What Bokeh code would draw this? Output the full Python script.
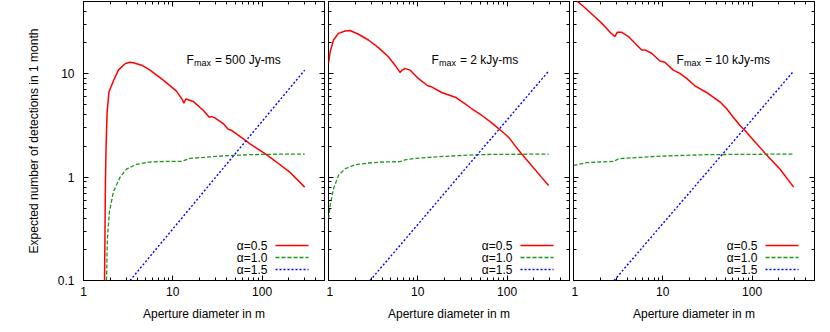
import math
from bokeh.plotting import figure
from bokeh.layouts import row
from bokeh.models import LogAxis, Label, Arrow, CustomJSTickFormatter, LogTicker, Range1d
from bokeh.embed import file_html
from bokeh.resources import INLINE

# ---------------- data ----------------
titles = ["500 Jy-ms", "2 kJy-ms", "10 kJy-ms"]
series_names = ["\u03b1=0.5", "\u03b1=1.0", "\u03b1=1.5"]

# panel 1 : Fmax = 500 Jy-ms
d1_red = [1.72, 1.74, 1.76, 1.79, 1.84, 1.93, 2.16, 2.46, 2.92, 3.30, 3.62, 4.48, 5.56, 7.83, 11.0,
          12.9, 13.3, 14.0, 16.9, 21.9, 25.6, 27.2, 29.6, 36.7, 41.7, 45.4, 61.3, 72.8, 86.4, 112,
          145, 204, 300]
n1_red = [0.10, 0.29, 0.89, 2.0, 4.3, 6.7, 8.5, 10.85, 12.5, 12.9, 12.8, 12.1, 10.85, 8.68, 6.79,
          5.55, 5.19, 5.70, 5.40, 4.44, 3.79, 3.85, 3.74, 3.30, 2.90, 2.84, 2.36, 2.11, 1.91, 1.65,
          1.40, 1.12, 0.80]
d1_green = [1.81, 1.85, 1.95, 2.16, 2.57, 3.05, 3.94, 5.56, 8.53, 12.6, 13.7, 15.5, 21.9, 30.9,
            47.4, 72.8, 112, 172, 300]
n1_green = [0.10, 0.25, 0.46, 0.72, 1.00, 1.20, 1.33, 1.40, 1.42, 1.42, 1.46, 1.52, 1.55, 1.59,
            1.62, 1.65, 1.66, 1.67, 1.67]
d1_blue = [3.32, 10, 30, 100, 300]
n1_blue = [0.10, 0.315, 0.99, 3.46, 10.85]

# panel 2 : Fmax = 2 kJy-ms
d2_red = [1.0, 1.044, 1.137, 1.293, 1.535, 1.746, 2.164, 2.80, 3.62, 4.68, 5.56, 6.32, 6.71, 7.19,
          8.18, 10.13, 12.88, 14.28, 18.46, 27.2, 28.4, 33.6, 39.9, 51.7, 66.8, 76.0, 94.2, 107,
          122, 145, 187, 242, 292]
n2_red = [12.6, 16.35, 21.2, 24.6, 25.9, 26.2, 24.1, 21.2, 17.9, 14.6, 12.1, 10.3, 10.85, 11.27,
          10.85, 9.01, 7.65, 7.48, 6.59, 5.85, 5.68, 5.15, 4.61, 3.97, 3.37, 3.06, 2.63, 2.36, 2.03,
          1.68, 1.30, 1.0, 0.83]
d2_green = [1.0, 1.044, 1.137, 1.293, 1.535, 1.986, 2.80, 3.94, 6.32, 7.19, 9.3, 13.1, 20.1, 30.9,
            47.4, 72.8, 292]
n2_green = [0.394, 0.531, 0.771, 1.04, 1.205, 1.318, 1.37, 1.40, 1.41, 1.47, 1.52, 1.55, 1.59,
            1.62, 1.65, 1.66, 1.67]
d2_blue = [2.92, 10, 30, 100, 292]
n2_blue = [0.10, 0.348, 1.06, 3.58, 10.6]

# panel 3 : Fmax = 10 kJy-ms
d3_red = [1.0, 1.293, 1.673, 2.164, 2.569, 2.896, 3.10, 3.47, 4.12, 4.89, 5.80, 6.32, 7.50, 9.3,
          10.57, 13.1, 15.55, 18.46, 22.9, 30.9, 43.5, 51.7, 61.3, 72.8, 82.8, 111.8, 144.6, 203.7,
          292]
n3_red = [54, 44.7, 36.6, 29.7, 25.2, 22.9, 25.2, 25.2, 22.9, 19.7, 17.0, 17.0, 15.8, 13.3, 12.9,
          10.85, 10.07, 9.01, 7.65, 6.59, 5.35, 4.61, 3.82, 3.17, 2.84, 2.11, 1.65, 1.205, 0.80]
d3_green = [1.0, 1.41, 1.986, 2.84, 3.18, 3.94, 5.56, 8.53, 13.1, 30.9, 72.8, 292]
n3_green = [1.30, 1.38, 1.40, 1.42, 1.50, 1.53, 1.55, 1.59, 1.61, 1.65, 1.66, 1.67]
d3_blue = [2.85, 10, 30, 100, 292]
n3_blue = [0.10, 0.355, 1.07, 3.60, 10.6]

panels = [
    (d1_red, n1_red, d1_green, n1_green, d1_blue, n1_blue),
    (d2_red, n2_red, d2_green, n2_green, d2_blue, n2_blue),
    (d3_red, n3_red, d3_green, n3_green, d3_blue, n3_blue),
]

# ---------------- style ----------------
FONT = "Liberation Sans"
X_MIN, X_MAX = 1, 500
Y_MIN, Y_MAX = 0.1, 50
FRAME_W, FRAME_H = 241, 279
COLORS = ["#ff0000", "#1f961f", "#0000ff"]
DASHES = ["solid", "4 2", "2 2"]
WIDTHS = [1.5, 1.3, 1.4]


def fx(px):
    lo, hi = math.log10(X_MIN), math.log10(X_MAX)
    return 10 ** (lo + (px / FRAME_W) * (hi - lo))


def fy(px_from_bottom):
    lo, hi = math.log10(Y_MIN), math.log10(Y_MAX)
    return 10 ** (lo + (px_from_bottom / FRAME_H) * (hi - lo))


def style_axis(ax, show_labels):
    ax.ticker = LogTicker(num_minor_ticks=10)
    ax.axis_line_color = None
    ax.major_tick_in = 5
    ax.major_tick_out = 0
    ax.minor_tick_in = 3
    ax.minor_tick_out = 0
    ax.major_tick_line_color = "black"
    ax.minor_tick_line_color = "black"
    ax.major_label_text_font = FONT
    ax.major_label_text_color = "black"
    ax.axis_label_text_color = "black"
    if show_labels:
        ax.major_label_text_font_size = "12px"
        ax.formatter = CustomJSTickFormatter(code="return String(Number(tick.toPrecision(6)));")
    else:
        ax.major_label_text_font_size = "0px"
        ax.major_label_standoff = 0
        ax.formatter = CustomJSTickFormatter(code="return '';")


figs = []
for i, (dr, nr, dg, ng, db, nb) in enumerate(panels):
    first = i == 0
    left_border = 83 if first else 2
    p = figure(width=left_border + FRAME_W + 2, height=FRAME_H + 46,
               x_axis_type="log", y_axis_type="log",
               x_range=Range1d(X_MIN, X_MAX), y_range=Range1d(Y_MIN, Y_MAX),
               output_backend="svg", toolbar_location=None,
               min_border_left=left_border, min_border_right=2,
               min_border_top=1, min_border_bottom=45)
    p.grid.visible = False
    p.outline_line_color = "black"
    p.outline_line_width = 1
    p.background_fill_color = "white"
    p.border_fill_color = "white"

    xb = p.below[0]
    yl = p.left[0]
    style_axis(xb, True)
    style_axis(yl, first)
    xb.major_label_standoff = 6
    xb.axis_label = "Aperture diameter in m"
    xb.axis_label_text_font = FONT
    xb.axis_label_text_font_size = "12px"
    xb.axis_label_text_font_style = "normal"
    xb.axis_label_standoff = 8
    if first:
        yl.major_label_standoff = 9
        yl.axis_label = "Expected number of detections in 1 month"
        yl.axis_label_text_font = FONT
        yl.axis_label_text_font_size = "12px"
        yl.axis_label_text_font_style = "normal"
        yl.axis_label_standoff = 14

    top_ax = LogAxis()
    right_ax = LogAxis()
    style_axis(top_ax, False)
    style_axis(right_ax, False)
    p.add_layout(top_ax, "above")
    p.add_layout(right_ax, "right")

    xs = [dr, dg, db]
    ys = [nr, ng, nb]
    for k in range(3):
        p.line(xs[k], ys[k], line_color=COLORS[k], line_width=WIDTHS[k], line_dash=DASHES[k])

    # title F_max = ...
    p.add_layout(Label(x=fx(103), y=fy(FRAME_H - 58), text="F", text_font=FONT,
                       text_font_size="12px", text_color="black", text_baseline="alphabetic"))
    p.add_layout(Label(x=fx(110.5), y=fy(FRAME_H - 61.5), text="max", text_font=FONT,
                       text_font_size="9px", text_color="black", text_baseline="alphabetic"))
    p.add_layout(Label(x=fx(131.5), y=fy(FRAME_H - 58), text="= " + titles[i], text_font=FONT,
                       text_font_size="12px", text_color="black", text_baseline="alphabetic"))

    # legend (text left, sample right)
    rows_px = [35, 23, 11]
    for k in range(3):
        yk = fy(rows_px[k])
        p.add_layout(Label(x=fx(184), y=yk, text=series_names[k], text_font=FONT,
                           text_font_size="12px", text_color="black",
                           text_align="right", text_baseline="middle"))
        p.add_layout(Arrow(end=None, x_start=fx(192), y_start=yk, x_end=fx(225), y_end=yk,
                           line_color=COLORS[k], line_width=WIDTHS[k], line_dash=DASHES[k]))
    figs.append(p)

layout = row(*figs)
open("out.html", "w").write(file_html(layout, INLINE))
